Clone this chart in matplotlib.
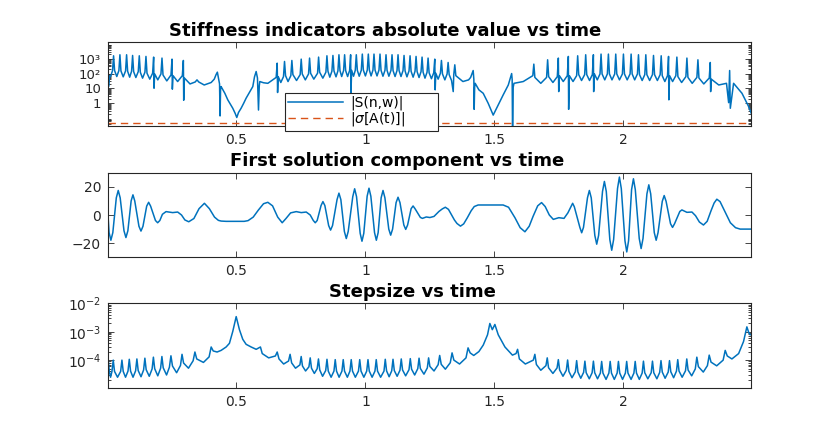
import numpy as np
import matplotlib
matplotlib.use("Agg")
import matplotlib.pyplot as plt
from matplotlib.ticker import FixedLocator, LogLocator, NullFormatter

plt.rcParams["font.family"] = ["DejaVu Sans"]
plt.rcParams["mathtext.fontset"] = "dejavusans"
plt.rcParams["mathtext.default"] = "regular"

# ─────────────────────────────────────────────────────────────────────────────
# DATA
# ─────────────────────────────────────────────────────────────────────────────

# panel 1: |S(n,w)| vertices
stiff_t = [
    0.0015, 0.004, 0.008, 0.012,
    0.0196, 0.0236, 0.0276, 0.036,
    0.0442, 0.0482, 0.0522, 0.061,
    0.0701, 0.0741, 0.0781, 0.086,
    0.0934, 0.0974, 0.1014, 0.110,
    0.1193, 0.1233, 0.1273, 0.136,
    0.1452, 0.1492, 0.1532, 0.164,
    0.175, 0.179, 0.1805, 0.183, 0.195,
    0.2073, 0.2113, 0.2153, 0.230,
    0.2462, 0.2502, 0.2515, 0.2542, 0.272,
    0.2902, 0.2942, 0.2955, 0.2982, 0.320,
    0.340, 0.347, 0.354, 0.375,
    0.402, 0.414, 0.421, 0.426, 0.4345, 0.4365, 0.4385, 0.4405,
    0.455, 0.4664, 0.478, 0.4858, 0.495, 0.5013, 0.508, 0.518, 0.528, 0.5375, 0.550, 0.5634,
    0.570, 0.5764, 0.5815, 0.5855, 0.5885, 0.5906, 0.605, 0.6217,
    0.654, 0.658, 0.6595, 0.662, 0.672,
    0.6824, 0.6864, 0.6904, 0.700,
    0.7109, 0.7149, 0.7189, 0.733,
    0.7471, 0.7511, 0.7551, 0.767,
    0.7795, 0.7835, 0.7875, 0.800,
    0.8145, 0.8185, 0.8225, 0.835,
    0.8468, 0.8508, 0.8548, 0.862,
    0.8701, 0.8741, 0.8781, 0.886,
    0.8934, 0.8974, 0.9014, 0.908,
    0.9154, 0.9194, 0.9234, 0.931,
    0.9387, 0.9427, 0.944, 0.9467, 0.954,
    0.9607, 0.9647, 0.9687, 0.976,
    0.984, 0.988, 0.992, 1.000,
    1.0073, 1.0113, 1.0153, 1.022,
    1.0293, 1.0333, 1.0373, 1.045,
    1.0526, 1.0566, 1.0606, 1.068,
    1.0759, 1.0799, 1.0839, 1.091,
    1.0992, 1.1032, 1.1072, 1.115,
    1.1225, 1.1265, 1.1305, 1.138,
    1.1458, 1.1498, 1.1538, 1.161,
    1.1691, 1.1731, 1.1771, 1.185,
    1.1924, 1.1964, 1.2004, 1.208,
    1.2157, 1.2197, 1.2237, 1.231,
    1.239, 1.243, 1.247, 1.256,
    1.2649, 1.2689, 1.2705, 1.2729, 1.282,
    1.2908, 1.2948, 1.2988, 1.308,
    1.3167, 1.3207, 1.3247, 1.334,
    1.3405, 1.3426, 1.3466, 1.3506, 1.378, 1.400,
    1.408, 1.4178, 1.4205, 1.4217, 1.4235, 1.4256,
    1.440, 1.4567, 1.476, 1.4955, 1.515, 1.534, 1.554,
    1.561, 1.567, 1.569, 1.5705, 1.573, 1.576, 1.612,
    1.649, 1.653, 1.657, 1.680,
    1.7025, 1.7065, 1.7105, 1.727,
    1.744, 1.748, 1.7495, 1.752, 1.767,
    1.7828, 1.7868, 1.788, 1.7908, 1.805,
    1.819, 1.823, 1.827, 1.838,
    1.8501, 1.8541, 1.8581, 1.869,
    1.8799, 1.8839, 1.885, 1.8879, 1.899,
    1.9096, 1.9136, 1.9176, 1.928,
    1.9381, 1.9421, 1.9461, 1.956,
    1.9666, 1.9706, 1.9746, 1.985,
    1.9964, 2.0004, 2.0044, 2.015,
    2.0262, 2.0302, 2.0342, 2.044,
    2.0547, 2.0587, 2.0627, 2.073,
    2.0832, 2.0872, 2.0912, 2.102,
    2.113, 2.117, 2.121, 2.132,
    2.1428, 2.1468, 2.1508, 2.161,
    2.1713, 2.1753, 2.1765, 2.1793, 2.191,
    2.2036, 2.2076, 2.2116, 2.226,
    2.2425, 2.2465, 2.2505, 2.267,
    2.2852, 2.2892, 2.2932, 2.312,
    2.3331, 2.3371, 2.3385, 2.3411, 2.370, 2.400,
    2.4083, 2.4122, 2.4148, 2.4275, 2.460, 2.486, 2.4987,
]
stiff_s = [
    1420, 13.3, 70, 63,
    158, 1570, 158, 63,
    158, 1840, 150, 60,
    150, 1840, 143, 57,
    143, 1650, 135, 54,
    135, 1570, 123, 49,
    123, 1420, 105, 42,
    105, 1280, 10.3, 94, 37.5,
    94, 1100, 80, 32,
    80, 935, 8.9, 72, 29,
    72, 760, 1.6, 50, 20,
    27, 37.5, 27, 17,
    25, 42, 85, 124, 20, 0.14, 10, 13.3,
    4.7, 1.7, 0.77, 0.46, 0.21, 0.11, 0.24, 0.46, 1.0, 2.2, 5.3, 13.3,
    60, 137, 50, 0.35, 15, 29, 24, 22,
    55, 500, 5.3, 62, 25,
    62, 650, 72, 29,
    72, 760, 85, 34,
    85, 935, 94, 37.5,
    94, 1100, 105, 42,
    105, 1280, 123, 49,
    123, 1570, 143, 57,
    143, 1650, 150, 60,
    150, 1840, 158, 63,
    158, 1840, 158, 63,
    158, 1840, 5.3, 165, 66,
    165, 1840, 165, 66,
    165, 2040, 172, 69,
    172, 2040, 172, 69,
    172, 2040, 172, 69,
    172, 2040, 165, 66,
    165, 1840, 165, 66,
    165, 1840, 158, 63,
    158, 1840, 158, 63,
    158, 1650, 150, 60,
    150, 1570, 143, 57,
    143, 1420, 135, 54,
    135, 1280, 123, 49,
    123, 1100, 112, 45,
    112, 935, 8, 105, 42,
    105, 760, 94, 37.5,
    94, 556, 85, 34,
    6.1, 85, 387, 72, 29, 37.5,
    55, 160, 40, 0.39, 12, 22,
    8.0, 4.7, 1.0, 0.16, 0.77, 3.6, 17,
    45, 100, 40, 0.01, 12, 22, 29,
    72, 430, 55, 22,
    55, 843, 62, 25,
    62, 1100, 6.1, 72, 29,
    72, 1420, 0.39, 72, 29,
    72, 1570, 85, 34,
    85, 1840, 85, 34,
    85, 1840, 6.1, 94, 37.5,
    94, 2040, 94, 37.5,
    94, 2040, 94, 37.5,
    94, 2040, 94, 37.5,
    94, 2040, 94, 37.5,
    94, 2040, 94, 37.5,
    94, 1840, 85, 34,
    85, 1840, 85, 34,
    85, 1650, 85, 34,
    85, 1570, 72, 29,
    72, 1420, 1.7, 72, 29,
    72, 1280, 62, 25,
    62, 1100, 55, 22,
    55, 843, 50, 20,
    50, 556, 6.1, 42, 17, 22,
    1.1, 160, 0.46, 22, 4.7, 0.59, 0.16,
]
sigma_level = 0.05          # |sigma[A(t)]|, constant

# panel 2: first solution component
sol_t = [
    0.002, 0.0062, 0.0132, 0.0207,
    0.0342, 0.0417, 0.0492,
    0.064, 0.0715, 0.079,
    0.0917, 0.0987, 0.1057,
    0.122, 0.1298, 0.1376,
    0.152, 0.1596, 0.1672,
    0.186, 0.1945, 0.203,
    0.213, 0.227, 0.2528, 0.2722, 0.287, 0.300,
    0.315, 0.335, 0.355, 0.3758, 0.395, 0.415, 0.430, 0.4405, 0.460,
    0.530, 0.545, 0.565, 0.585, 0.605, 0.6217, 0.640, 0.660,
    0.6774, 0.692, 0.710, 0.7318, 0.7512, 0.7706, 0.786,
    0.798, 0.8055, 0.813,
    0.828, 0.8353, 0.8428,
    0.8575, 0.865, 0.8725,
    0.890, 0.8974, 0.9048,
    0.9185, 0.9259, 0.9333,
    0.951, 0.9583, 0.9656,
    0.9797, 0.9867, 0.9937,
    1.0067, 1.0139, 1.0211,
    1.0354, 1.0424, 1.0494,
    1.061, 1.0683, 1.0756,
    1.0906, 1.098, 1.1054,
    1.119, 1.1265, 1.134,
    1.149, 1.1563, 1.1636,
    1.1773, 1.1848, 1.1923,
    1.213, 1.221, 1.236, 1.250, 1.266, 1.285,
    1.298, 1.3098, 1.322, 1.345,
    1.355, 1.3686, 1.381, 1.395, 1.410, 1.422, 1.437,
    1.534, 1.555, 1.580, 1.600, 1.6185, 1.635, 1.650, 1.668,
    1.683, 1.697, 1.713, 1.7285, 1.750, 1.770, 1.785,
    1.797, 1.8035, 1.810,
    1.8315, 1.8385, 1.8455,
    1.861, 1.8683, 1.8756,
    1.8895, 1.8968, 1.9041,
    1.9193, 1.9266, 1.9339,
    1.9477, 1.955, 1.9623,
    1.9775, 1.9848, 1.9921,
    2.0063, 2.0133, 2.0203,
    2.032, 2.0392, 2.0464,
    2.0617, 2.069, 2.0763,
    2.0915, 2.0988, 2.1061,
    2.120, 2.1273, 2.1346,
    2.151, 2.1584, 2.1658,
    2.183, 2.1908, 2.1986,
    2.219, 2.2271, 2.2465, 2.266, 2.280, 2.295,
    2.3107, 2.325, 2.340, 2.352, 2.3625, 2.375, 2.395, 2.415, 2.435, 2.453, 2.495,
]
sol_x = [
    0.0, -12.5, -17.9, -12.5,
    12.2, 17.4, 12.2,
    -11.2, -16.0, -11.2,
    10.0, 14.3, 10.0,
    -8.0, -11.4, -8.0,
    6.3, 9.0, 6.3,
    -3.9, -5.5, -3.9,
    0.5, 2.4, 1.7, 2.1, 0.0, -3.5,
    -4.8, -2.5, 4.5, 8.3, 4.5, -1.5, -3.8, -4.3, -4.5,
    -4.5, -4.0, -1.5, 3.5, 8.0, 9.0, 6.5, -1.5,
    -5.5, -2.5, 1.5, 2.4, 1.7, 2.1, 0.0,
    -3.9, -5.5, -3.9,
    6.7, 9.5, 6.7,
    -7.5, -10.7, -7.5,
    10.9, 15.5, 10.9,
    -11.7, -16.7, -11.7,
    13.0, 18.6, 13.0,
    -13.0, -18.6, -13.0,
    13.3, 19.0, 13.3,
    -12.5, -17.9, -12.5,
    12.2, 17.4, 12.2,
    -10.0, -14.3, -10.0,
    8.8, 12.6, 8.8,
    -7.1, -10.2, -7.1,
    4.5, 6.4, 4.5,
    -1.7, -2.4, -1.4, -1.8, -1.0, 2.5,
    4.3, 5.5, 4.0, -3.5,
    -6.0, -7.9, -6.3, -2.0, 3.0, 6.0, 7.1,
    7.1, 5.5, -2.0, -9.0, -11.9, -8.0, -1.0, 6.5,
    8.8, 6.0, 0.0, -3.1, -1.9, -2.4, 1.5,
    5.8, 8.3, 5.8,
    -8.8, -12.6, -8.8,
    12.2, 17.4, 12.2,
    -14.5, -20.7, -14.5,
    16.7, 23.8, 16.7,
    -17.5, -25.0, -17.5,
    18.8, 26.9, 18.8,
    -18.3, -26.2, -18.3,
    18.0, 25.7, 18.0,
    -16.7, -23.8, -16.7,
    15.0, 21.4, 15.0,
    -12.5, -17.9, -12.5,
    9.7, 13.8, 9.7,
    -6.2, -8.8, -6.2,
    2.5, 3.6, 1.9, 2.1, -0.5, -5.0,
    -7.1, -4.5, 3.0, 8.5, 11.2, 9.5, 2.0, -5.5, -9.0, -10.0, -10.0,
]

# panel 3: stepsize
step_t = [
    0.003, 0.007, 0.012,
    0.0173, 0.0223, 0.0273, 0.039,
    0.051, 0.056, 0.061, 0.070,
    0.0795, 0.0845, 0.0895, 0.099,
    0.109, 0.114, 0.119, 0.130,
    0.140, 0.145, 0.150, 0.162,
    0.173, 0.178, 0.183, 0.195,
    0.206, 0.211, 0.216, 0.229,
    0.240, 0.246, 0.252, 0.268,
    0.283, 0.289, 0.295, 0.314,
    0.332, 0.339, 0.346, 0.372,
    0.394, 0.402, 0.410, 0.425,
    0.4405, 0.460, 0.4728, 0.4857, 0.499, 0.5116, 0.5245, 0.5375, 0.557, 0.5765,
    0.593, 0.600, 0.625,
    0.651, 0.658, 0.665, 0.683,
    0.702, 0.708, 0.714, 0.729,
    0.746, 0.751, 0.756, 0.768,
    0.781, 0.786, 0.791, 0.802,
    0.813, 0.818, 0.823, 0.834,
    0.846, 0.851, 0.856, 0.867,
    0.878, 0.883, 0.888, 0.898,
    0.909, 0.914, 0.919, 0.930,
    0.940, 0.945, 0.950, 0.961,
    0.973, 0.978, 0.983, 0.994,
    1.005, 1.010, 1.015, 1.026,
    1.037, 1.042, 1.047, 1.059,
    1.072, 1.077, 1.082, 1.092,
    1.102, 1.107, 1.112, 1.123,
    1.134, 1.139, 1.144, 1.156,
    1.169, 1.174, 1.179, 1.191,
    1.203, 1.208, 1.213, 1.227,
    1.240, 1.245, 1.250, 1.266,
    1.282, 1.288, 1.294, 1.310,
    1.329, 1.336, 1.343, 1.365,
    1.390, 1.398, 1.406, 1.420,
    1.440, 1.457, 1.4735, 1.4825, 1.492, 1.502, 1.515, 1.541, 1.570,
    1.584, 1.590, 1.597, 1.620,
    1.651, 1.657, 1.663, 1.680,
    1.700, 1.705, 1.710, 1.727,
    1.743, 1.748, 1.753, 1.766,
    1.779, 1.784, 1.789, 1.801,
    1.814, 1.819, 1.824, 1.835,
    1.846, 1.851, 1.856, 1.868,
    1.879, 1.884, 1.889, 1.900,
    1.911, 1.916, 1.921, 1.933,
    1.944, 1.949, 1.954, 1.965,
    1.976, 1.981, 1.986, 1.997,
    2.008, 2.013, 2.018, 2.030,
    2.041, 2.046, 2.051, 2.062,
    2.073, 2.078, 2.083, 2.095,
    2.108, 2.113, 2.118, 2.130,
    2.141, 2.146, 2.151, 2.162,
    2.174, 2.179, 2.184, 2.195,
    2.206, 2.211, 2.216, 2.228,
    2.241, 2.246, 2.251, 2.265,
    2.279, 2.285, 2.291, 2.310,
    2.326, 2.333, 2.340, 2.362,
    2.387, 2.395, 2.403, 2.421,
    2.447, 2.466, 2.479, 2.486, 2.492,
]
step_h = [
    1.0e-4, 4.0e-5, 2.5e-5,
    4.0e-5, 1.0e-4, 4.0e-5, 2.5e-5,
    4.0e-5, 1.0e-4, 4.0e-5, 2.5e-5,
    4.1e-5, 1.07e-4, 4.1e-5, 2.5e-5,
    4.2e-5, 1.1e-4, 4.3e-5, 2.6e-5,
    4.5e-5, 1.17e-4, 4.6e-5, 2.7e-5,
    4.9e-5, 1.27e-4, 5.0e-5, 2.8e-5,
    5.2e-5, 1.34e-4, 5.4e-5, 3.0e-5,
    5.6e-5, 1.42e-4, 6.2e-5, 3.6e-5,
    6.5e-5, 1.6e-4, 7.9e-5, 5.2e-5,
    9.5e-5, 1.93e-4, 1.1e-4, 8.3e-5,
    1.3e-4, 2.9e-4, 2.1e-4, 1.93e-4,
    2.2e-4, 2.9e-4, 3.9e-4, 1.02e-3, 3.4e-3, 1.18e-3, 5.4e-4, 3.6e-4, 2.9e-4, 2.4e-4,
    2.9e-4, 1.7e-4, 1.2e-4,
    1.4e-4, 1.93e-4, 1.1e-4, 7.3e-5,
    9.3e-5, 1.6e-4, 8.0e-5, 5.2e-5,
    6.8e-5, 1.34e-4, 6.2e-5, 4.15e-5,
    5.8e-5, 1.2e-4, 5.2e-5, 3.4e-5,
    5.0e-5, 1.1e-4, 4.5e-5, 2.7e-5,
    4.3e-5, 1.07e-4, 4.1e-5, 2.5e-5,
    4.1e-5, 1.04e-4, 4.1e-5, 2.5e-5,
    4.1e-5, 1.04e-4, 4.1e-5, 2.5e-5,
    4.1e-5, 1.04e-4, 4.1e-5, 2.5e-5,
    4.1e-5, 1.04e-4, 4.1e-5, 2.5e-5,
    4.1e-5, 1.04e-4, 4.1e-5, 2.5e-5,
    4.1e-5, 1.04e-4, 4.1e-5, 2.5e-5,
    4.1e-5, 1.07e-4, 4.2e-5, 2.6e-5,
    4.2e-5, 1.07e-4, 4.3e-5, 2.7e-5,
    4.4e-5, 1.1e-4, 4.5e-5, 2.8e-5,
    4.6e-5, 1.13e-4, 4.8e-5, 3.0e-5,
    5.0e-5, 1.17e-4, 5.1e-5, 3.2e-5,
    5.3e-5, 1.2e-4, 6.0e-5, 4.15e-5,
    6.9e-5, 1.46e-4, 7.1e-5, 4.8e-5,
    8.1e-5, 1.8e-4, 1.0e-4, 7.3e-5,
    1.2e-4, 2.7e-4, 1.8e-4, 1.46e-4,
    2.0e-4, 3.4e-4, 7.8e-4, 1.95e-3, 1.18e-3, 1.8e-3, 7.8e-4, 2.9e-4, 1.5e-4,
    1.7e-4, 2.4e-4, 1.1e-4, 7.3e-5,
    1.0e-4, 1.6e-4, 7.0e-5, 4.4e-5,
    6.4e-5, 1.2e-4, 5.4e-5, 3.4e-5,
    5.3e-5, 1.04e-4, 4.5e-5, 2.7e-5,
    4.4e-5, 1.01e-4, 4.0e-5, 2.4e-5,
    3.9e-5, 9.6e-5, 3.8e-5, 2.3e-5,
    3.7e-5, 9.2e-5, 3.6e-5, 2.2e-5,
    3.6e-5, 9.2e-5, 3.6e-5, 2.2e-5,
    3.5e-5, 9.0e-5, 3.5e-5, 2.1e-5,
    3.5e-5, 9.0e-5, 3.5e-5, 2.1e-5,
    3.5e-5, 9.0e-5, 3.5e-5, 2.1e-5,
    3.5e-5, 9.0e-5, 3.5e-5, 2.1e-5,
    3.5e-5, 9.0e-5, 3.5e-5, 2.1e-5,
    3.5e-5, 9.2e-5, 3.6e-5, 2.2e-5,
    3.6e-5, 9.2e-5, 3.6e-5, 2.2e-5,
    3.7e-5, 9.6e-5, 3.8e-5, 2.3e-5,
    3.8e-5, 9.6e-5, 3.9e-5, 2.4e-5,
    4.1e-5, 1.04e-4, 4.1e-5, 2.5e-5,
    4.2e-5, 1.1e-4, 4.5e-5, 2.8e-5,
    4.9e-5, 1.27e-4, 5.9e-5, 3.8e-5,
    6.4e-5, 1.5e-4, 8.5e-5, 6.3e-5,
    1.0e-4, 2.2e-4, 1.4e-4, 1.1e-4,
    1.7e-4, 4.5e-4, 1.48e-3, 9.5e-4, 7.8e-4,
]

x_ticks = [0.5, 1, 1.5, 2]
x_tick_labels = ["0.5", "1", "1.5", "2"]
stiff_ticks = [1, 10, 100, 1000]
stiff_tick_labels = ["1", "10", "10\u00b2", "10\u00b3"]
sol_ticks = [-20, 0, 20]
step_ticks = [1e-4, 1e-3, 1e-2]
step_tick_labels = [r"$10^{-4}$", r"$10^{-3}$", r"$10^{-2}$"]

titles = ["Stiffness indicators absolute value vs time",
          "First solution component vs time",
          "Stepsize vs time"]
legend_labels = ["|S(n,w)|", r"|$\mathit{\sigma}$[A(t)]|"]

BLUE = "#0072BD"
ORANGE = "#D95319"
DARK = "#262626"
W, H = 830, 436


# ─────────────────────────────────────────────────────────────────────────────
# HELPERS
# ─────────────────────────────────────────────────────────────────────────────

def _style(ax, title, title_x):
    ax.set_xlim(0.002, 2.495)
    ax.xaxis.set_major_locator(FixedLocator(x_ticks))
    ax.set_xticklabels(x_tick_labels)
    ax.tick_params(which="both", direction="in", top=True, right=True,
                   colors=DARK, labelsize=10, pad=5, width=0.6)
    ax.tick_params(which="major", length=4)
    ax.tick_params(which="minor", length=2)
    for sp in ax.spines.values():
        sp.set_linewidth(0.8)
        sp.set_color(DARK)
    ax.set_title(title, fontsize=13, fontweight="bold", pad=4.5)
    ax.title.set_x(title_x)


def _log_minor(ax):
    ax.yaxis.set_minor_locator(LogLocator(base=10, subs=np.arange(2, 10), numticks=30))
    ax.yaxis.set_minor_formatter(NullFormatter())


# ─────────────────────────────────────────────────────────────────────────────
# FIGURE
# ─────────────────────────────────────────────────────────────────────────────

fig = plt.figure(figsize=(W / 100, H / 100), dpi=100)
ax1 = fig.add_axes([108 / W, 1 - 126 / H, 643 / W, 83.5 / H])
ax2 = fig.add_axes([108 / W, 1 - 257.3 / H, 643 / W, 84.6 / H])
ax3 = fig.add_axes([108 / W, 1 - 387.7 / H, 643 / W, 84.4 / H])

# 1. stiffness indicators
ax1.plot(stiff_t, stiff_s, color=BLUE, lw=1.1, label=legend_labels[0])
ax1.axhline(sigma_level, color=ORANGE, lw=1.0, dashes=(5.3, 3.6),
            label=legend_labels[1])
ax1.set_yscale("log")
ax1.set_ylim(0.0295, 12300)
ax1.yaxis.set_major_locator(FixedLocator(stiff_ticks))
ax1.set_yticklabels(stiff_tick_labels)
_log_minor(ax1)
_style(ax1, titles[0], (385.5 - 108) / 643)
ax1.tick_params(axis="y", labelsize=9.5)
leg = ax1.legend(loc="upper left",
                 bbox_to_anchor=(285 / W, 1 - 130 / H, 153 / W, 37 / H),
                 bbox_transform=fig.transFigure, mode="expand",
                 borderaxespad=0, fontsize=10,
                 handlelength=4.0, handletextpad=0.5, borderpad=0.2,
                 labelspacing=0.0, fancybox=False, framealpha=1,
                 edgecolor=DARK)
leg.get_frame().set_linewidth(0.8)
leg.set_zorder(5)

# 2. first solution component
ax2.plot(sol_t, sol_x, color=BLUE, lw=1.1)
ax2.set_ylim(-30, 30)
ax2.yaxis.set_major_locator(FixedLocator(sol_ticks))
_style(ax2, titles[1], (397 - 108) / 643)

# 3. stepsize
ax3.plot(step_t, step_h, color=BLUE, lw=1.1)
ax3.set_yscale("log")
ax3.set_ylim(1.07e-5, 1e-2)
ax3.yaxis.set_major_locator(FixedLocator(step_ticks))
ax3.set_yticklabels(step_tick_labels)
_log_minor(ax3)
_style(ax3, titles[2], (412 - 108) / 643)

plt.savefig("out.png", dpi=100)
plt.close()
